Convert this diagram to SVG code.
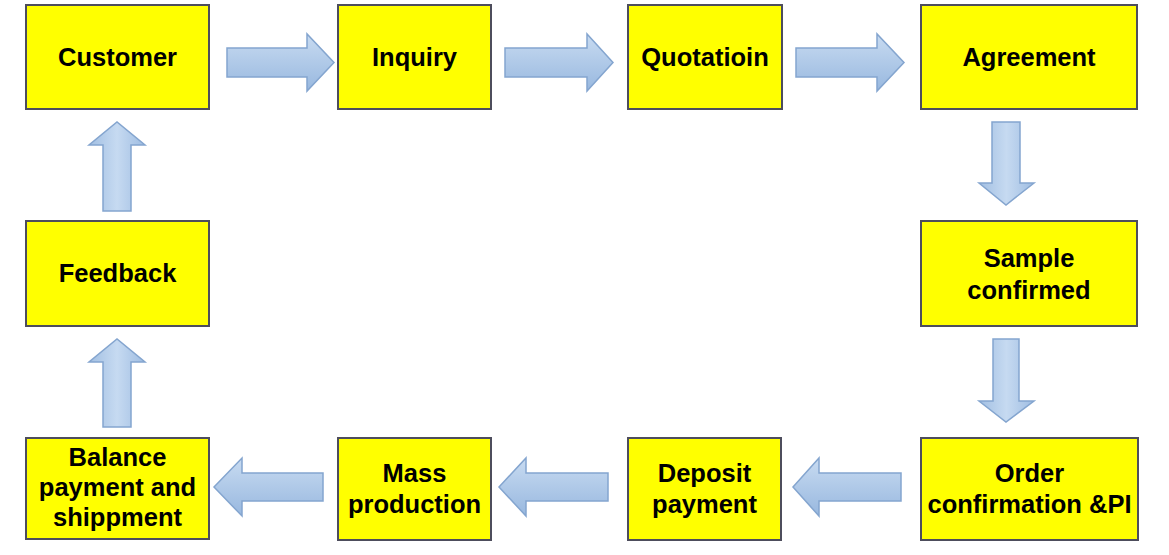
<svg xmlns="http://www.w3.org/2000/svg" width="1169" height="555" viewBox="0 0 1169 555">
<defs>
<linearGradient id="gh" x1="0" y1="0" x2="0" y2="1">
<stop offset="0" stop-color="#c8dbf1"/>
<stop offset="1" stop-color="#98b8df"/>
</linearGradient>
<linearGradient id="gv" x1="0" y1="0" x2="1" y2="0">
<stop offset="0" stop-color="#a2bfe2"/>
<stop offset="0.5" stop-color="#c6daf1"/>
<stop offset="1" stop-color="#9fbde2"/>
</linearGradient>
</defs>
<style>
.box{fill:#ffff00;stroke:#4d4d5c;stroke-width:2}
.t{font-family:"Liberation Sans",Arial,sans-serif;font-weight:bold;font-size:25.5px;fill:#000;text-anchor:middle}
.ah{fill:url(#gh);stroke:#84a5cf;stroke-width:1.5;stroke-linejoin:miter}
.av{fill:url(#gv);stroke:#84a5cf;stroke-width:1.5;stroke-linejoin:miter}
</style>
<rect width="1169" height="555" fill="#ffffff"/>
<g id="connectors">
<path class="ah" d="M227,48 H307 V34 L334,62.5 L307,91 V77 H227 Z"/>
<path class="ah" d="M505,48 H587 V34 L613,62.5 L587,91 V77 H505 Z"/>
<path class="ah" d="M796,48 H877 V34 L904,62.5 L877,91 V77 H796 Z"/>
<path class="av" d="M992,122 H1020 V183 H1034 L1006,205 L979,183 H992 Z"/>
<path class="av" d="M993,339 H1019 V401 H1034 L1006,422 L979,401 H993 Z"/>
<path class="ah" d="M901,473 H819 V458 L793,487 L819,516 V501 H901 Z"/>
<path class="ah" d="M608,473 H526 V458 L499,487 L526,516 V501 H608 Z"/>
<path class="ah" d="M323,473 H242 V458 L214,487 L242,516 V501 H323 Z"/>
<path class="av" d="M103,427 V362 H89 L117,339 L145,362 H131 V427 Z"/>
<path class="av" d="M103,211 V145 H89 L117,122 L145,145 H131 V211 Z"/>
</g>
<g id="customer"><rect class="box" x="26" y="5" width="183" height="104"/><text class="t" x="117.5" y="66">Customer</text></g>
<g id="inquiry"><rect class="box" x="338" y="5" width="153" height="104"/><text class="t" x="414.5" y="66">Inquiry</text></g>
<g id="quotation"><rect class="box" x="628" y="5" width="154" height="104"/><text class="t" x="705" y="66">Quotatioin</text></g>
<g id="agreement"><rect class="box" x="921" y="5" width="216" height="104"/><text class="t" x="1029" y="66">Agreement</text></g>
<g id="sample"><rect class="box" x="921" y="221" width="216" height="105"/><text class="t" x="1029" y="267">Sample</text><text class="t" x="1029" y="299">confirmed</text></g>
<g id="order"><rect class="box" x="921" y="438" width="217" height="102"/><text class="t" x="1029.5" y="482">Order</text><text class="t" x="1029.5" y="513">confirmation &amp;PI</text></g>
<g id="deposit"><rect class="box" x="628" y="438" width="153" height="102"/><text class="t" x="704.5" y="482">Deposit</text><text class="t" x="704.5" y="513">payment</text></g>
<g id="mass"><rect class="box" x="338" y="438" width="153" height="102"/><text class="t" x="414.5" y="482">Mass</text><text class="t" x="414.5" y="513">production</text></g>
<g id="balance"><rect class="box" x="26" y="438" width="183" height="101"/><text class="t" x="117.5" y="466">Balance</text><text class="t" x="117.5" y="496">payment and</text><text class="t" x="117.5" y="526">shippment</text></g>
<g id="feedback"><rect class="box" x="26" y="221" width="183" height="105"/><text class="t" x="117.5" y="282">Feedback</text></g>
</svg>
